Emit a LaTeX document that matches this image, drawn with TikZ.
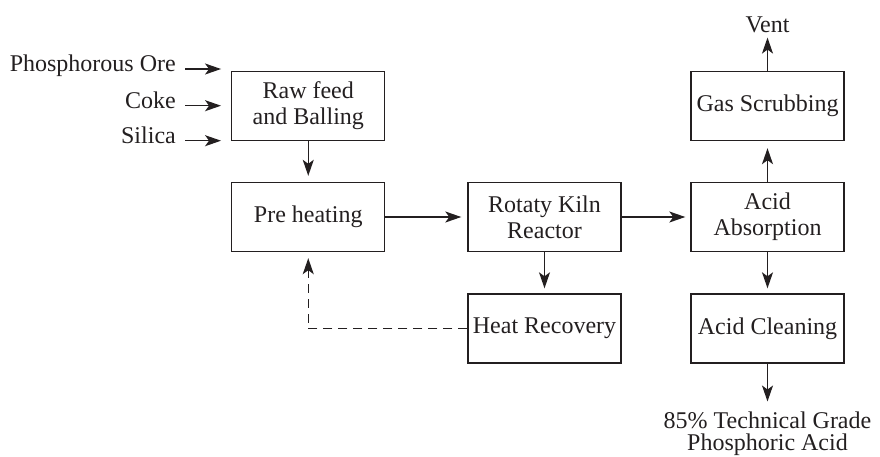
\documentclass[tikz,border=0pt]{standalone}
\usepackage{fontspec}
\setmainfont{Liberation Serif}
\usetikzlibrary{arrows.meta}
\definecolor{ink}{HTML}{231F20}
\begin{document}
\begin{tikzpicture}[x=1pt,y=1pt,
  box/.style={draw=ink, text=ink, line width=1.4pt, minimum width=153pt, minimum height=69pt, align=center, inner sep=0pt, font=\fontsize{24}{26}\selectfont},
  lbl/.style={inner sep=0pt, text=ink, font=\fontsize{24}{26}\selectfont},
  arr/.style={draw=ink, line width=1.3pt, -{Stealth[length=16pt,width=11pt,inset=4pt]}},
  dashline/.style={dash pattern=on 9pt off 6pt},
]
\useasboundingbox (0,0) rectangle (880,-456);

\node[box] (raw) at (308.25,-106) {Raw feed\\and Balling};
\node[box] (pre) at (308.25,-217) {Pre heating};
\node[box] (kiln) at (544.5,-217) {Rotaty Kiln\\Reactor};
\node[box] (heat) at (544.5,-328.5) {Heat Recovery};
\node[box] (gas) at (767.5,-106) {Gas Scrubbing};
\node[box] (abs) at (767.5,-217) {Acid\\Absorption};
\node[box] (clean) at (767.5,-328.5) {Acid Cleaning};

\node[lbl, anchor=mid east] (ore) at (176,-69) {Phosphorous Ore};
\node[lbl, anchor=mid east] (coke) at (176,-105.7) {Coke};
\node[lbl, anchor=mid east] (sil) at (176,-140.7) {Silica};

\draw[arr, shorten <=9pt, shorten >=10pt] (ore.mid east) -- (ore.mid east -| raw.west);
\draw[arr, shorten <=9pt, shorten >=10pt] (coke.mid east) -- (coke.mid east -| raw.west);
\draw[arr, shorten <=9pt, shorten >=10pt] (sil.mid east) -- (sil.mid east -| raw.west);

\node[lbl, anchor=base] (vent) at (767.5,-32) {Vent};
\node[lbl, align=center, font=\fontsize{24}{22}\selectfont, anchor=north] (out) at (767.5,-411.5) {85\% Technical Grade\\Phosphoric Acid};

\draw[arr, shorten >=6pt] (raw.south) -- (pre.north);
\draw[arr, shorten >=6pt] (pre.east) -- (kiln.west);
\draw[arr, shorten >=5pt] (kiln.east) -- (abs.west);
\draw[arr, shorten >=5pt] (kiln.south) -- (heat.north);
\draw[arr, shorten >=5pt] (abs.south) -- (clean.north);
\draw[arr, shorten >=7pt] (abs.north) -- (gas.south);
\draw[arr, shorten >=5pt] (gas.north) -- (vent.south);
\draw[arr, shorten >=10pt] (clean.south) -- (out.north);
\draw[arr, dashline, shorten >=6pt] (heat.west) -| (pre.south);
\end{tikzpicture}
\end{document}
